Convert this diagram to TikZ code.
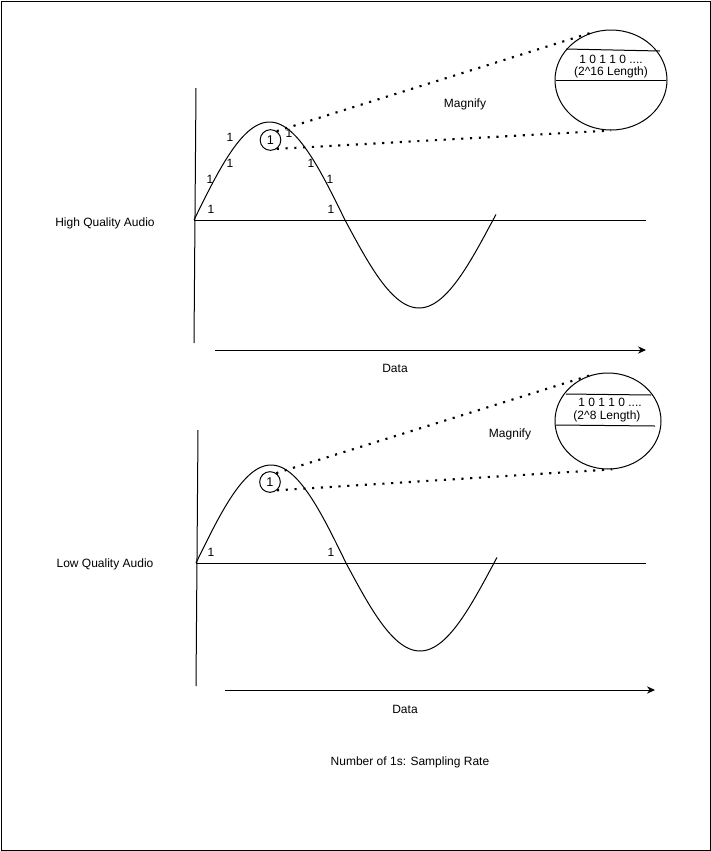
\documentclass[tikz,border=0pt]{standalone}
\usepackage{fontspec}
\setmainfont{Liberation Sans}
\usetikzlibrary{shapes.geometric,arrows.meta}
\begin{document}
\begin{tikzpicture}[x=0.75pt,y=-0.75pt,line width=0.75pt,
  lbl/.style={font=\fontsize{9pt}{10pt}\selectfont,inner sep=0pt},
  smallc/.style={circle,draw,minimum size=15.5pt,inner sep=0pt,font=\fontsize{9.5pt}{10pt}\selectfont},
  bigc/.style={ellipse,draw,inner sep=0pt},
  dots/.style={line width=1.6pt,dash pattern=on 1.6pt off 5pt},
  axisarrow/.style={-{Stealth[length=6pt,width=5.5pt]}}]
\useasboundingbox (0,0) rectangle (711,851);
\draw (1,1) rectangle (710,850);

% ===== Top panel =====
\coordinate (va1) at (196,88); \coordinate (vb1) at (194,343);
\draw (va1) -- (vb1);
\coordinate (ha1) at (194,220); \coordinate (hb1) at (646,220);
\draw (ha1) -- (hb1);
\draw plot[domain=194:345,samples=60,smooth] (\x,{220-98*sin((\x-194)/151*180)});
\draw plot[domain=345:496,samples=60,smooth] (\x,{220+88*sin((\x-345)/148*180)});
\coordinate (da1) at (215,350); \coordinate (db1) at (646,350);
\draw[axisarrow] (da1) -- (db1);
\node[lbl] (data1) at (395,368) {Data};
\node[lbl] (hq) at (105,223) {High Quality Audio};
\node[lbl] (mag1) at (465,104) {Magnify};
\node[smallc] (sc1) at (270.5,140) {1};
\node[bigc,minimum width=84pt,minimum height=75pt] (bc1) at (611,80) {};
\draw (566,49) -- (660,51);
\draw (556,80) -- (666,80);
\node[lbl] (bits1) at (611,59) {1 0 1 1 0 ....};
\node[lbl] (len1) at (611,72) {(2\textasciicircum16 Length)};
\draw[dots] (sc1.55) -- (bc1.112);
\draw[dots] (sc1.-55) -- (bc1.south);
\foreach \p/\n in {{230,137}/o1,{230,163}/o2,{210,179}/o3,{211,209}/o4,{289,133}/o5,{311,163}/o6,{330,179}/o7,{331,209}/o8}
  \node[lbl] (\n) at (\p) {1};

% ===== Bottom panel =====
\coordinate (va2) at (198,430); \coordinate (vb2) at (196,686);
\draw (va2) -- (vb2);
\coordinate (ha2) at (196,563); \coordinate (hb2) at (646,563);
\draw (ha2) -- (hb2);
\draw plot[domain=196:346,samples=60,smooth] (\x,{563-98*sin((\x-196)/150*180)});
\draw plot[domain=346:497,samples=60,smooth] (\x,{563+88*sin((\x-346)/148*180)});
\coordinate (da2) at (225,690); \coordinate (db2) at (655,690);
\draw[axisarrow] (da2) -- (db2);
\node[lbl] (data2) at (405,709) {Data};
\node[lbl] (lq) at (105,564) {Low Quality Audio};
\node[lbl] (mag2) at (510,434) {Magnify};
\node[smallc] (sc2) at (270,482) {1};
\node[bigc,minimum width=79.5pt,minimum height=72pt] (bc2) at (608,421) {};
\draw (566,394) -- (651,395);
\draw (556,425) -- (655,426);
\node[lbl] (bits2) at (610,402) {1 0 1 1 0 ....};
\node[lbl] (len2) at (607,416) {(2\textasciicircum8 Length)};
\draw[dots] (sc2.55) -- (bc2.108);
\draw[dots] (sc2.-50) -- (bc2.-85);
\node[lbl] (u1) at (211,552) {1};
\node[lbl] (u2) at (331,552) {1};

\node[lbl] (note) at (410,762) {Number of 1s: Sampling Rate};
\end{tikzpicture}
\end{document}
